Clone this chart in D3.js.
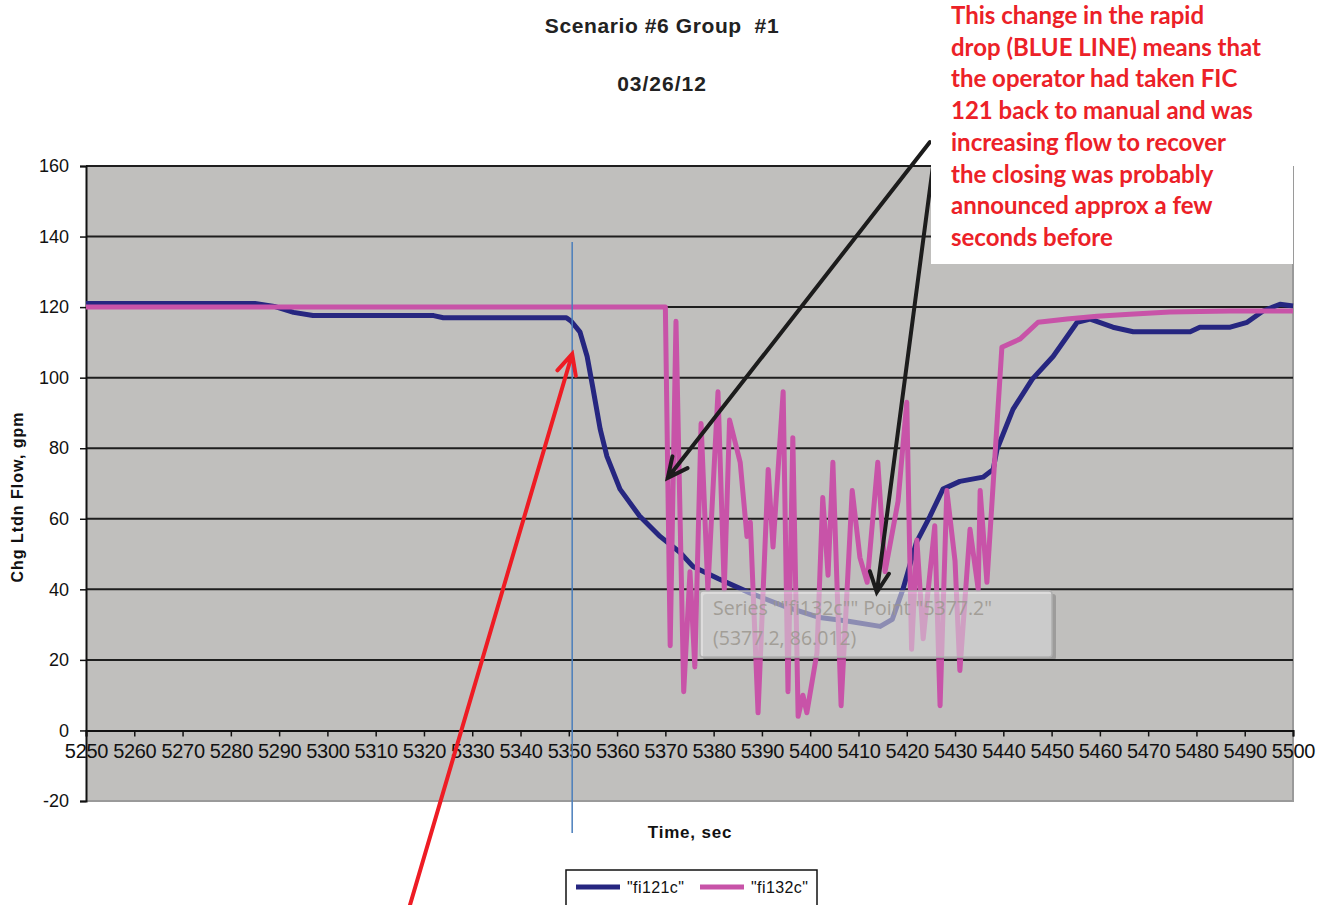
<!DOCTYPE html>
<html>
<head>
<meta charset="utf-8">
<title>Scenario #6 Group #1</title>
<script src="https://d3js.org/d3.v7.min.js"></script>
<style>
	body { margin: 0; background: #fff; }
	svg text { font-family: "Liberation Sans", Arial, sans-serif; }
</style>
</head>
<body>
<div id="chart"></div>
<script>
// --- data: [time sec, flow gpm] ---
var fi121c = [[5250,121],[5285,121],[5289,120.2],[5293,118.5],[5297,117.6],[5322,117.6],[5324,117],
	[5349.5,117],[5350.5,116],[5352.3,113],[5353.8,106],[5355,97],[5356.5,85.4],[5357.9,77.7],
	[5360.6,68.4],[5364.7,60.7],[5368.9,55],[5373,50.5],[5375.7,46.5],[5381,43],[5387.5,39],
	[5395,35],[5402,32],[5407.6,31],[5414.5,29.5],[5417,31.5],[5419.2,40],[5422,53.3],[5424.8,60.7],
	[5427.5,68.4],[5431,70.6],[5435.8,71.8],[5437.9,74],[5438.7,79.7],[5442,91],[5446,99.6],
	[5450.3,106],[5455.3,115.7],[5458,116.6],[5462.7,114.3],[5466.9,113],[5478.7,113],[5480.7,114.3],
	[5487,114.3],[5490.5,115.7],[5493.8,118.9],[5497.3,120.8],[5500,120.3]];

var fi132c = [[5250,120],[5370,120],[5371,24],[5372.2,116],[5373.8,11],[5375.1,45],[5376.1,18],
	[5377.4,87],[5378.8,40],[5380.9,96],[5382.2,40],[5383.3,88],[5385.5,76],[5386.9,55],[5387.6,59],
	[5389.2,5],[5391.3,74],[5392.3,52],[5394.4,96],[5395.4,11],[5396.4,83],[5397.5,4],[5398.5,10],
	[5399.3,5],[5401.4,22],[5402.6,66],[5403.7,44],[5404.7,76],[5406.4,7],[5408.7,68],[5410.3,49],
	[5411.8,42],[5414,76],[5415.5,45],[5418.2,65],[5420,93],[5421,23],[5422.1,54],[5423.4,26],
	[5425.8,58],[5426.9,7],[5428.3,68],[5430,48],[5431,17],[5433.1,57],[5434.8,40],[5435.2,68],
	[5436.6,42],[5439.7,108.6],[5443.5,111],[5447.2,115.7],[5453.2,116.6],[5459.4,117.4],
	[5466.2,118],[5474.5,118.6],[5487,118.9],[5500,118.9]];

var seriesNames = ['"fi121c"', '"fi132c"'];
var seriesColors = ["#262680", "#c853a8"];
var xTicks = d3.range(5250, 5501, 10);
var yTicks = d3.range(-20, 161, 20);

// annotation arrows, [from, tip] in data units
var redArrow = [[5317.1,-49.5],[5350.7,106.7]];
var blackArrows = [[[5424.8,166.8],[5370.5,71.6]], [[5425.4,159.7],[5413.8,39.2]]];
var markerTime = 5350.7;
var noteLines = ["This change in the rapid", "drop (BLUE LINE) means that", "the operator had taken FIC",
	"121 back to manual and was", "increasing flow to recover", "the closing was probably",
	"announced approx a few", "seconds before"];
var tipLines = ['Series ""fi132c"" Point "5377.2"', "(5377.2, 86.012)"];

// --- layout ---
var W = 1330, H = 905;
var plot = {left: 86, right: 1293, top: 166, bottom: 801};

var svg = d3.select("#chart").append("svg")
	.attr("width", W).attr("height", H);

var x = d3.scaleLinear().domain([5250, 5500]).range([plot.left, plot.right]);
var y = d3.scaleLinear().domain([-20, 160]).range([plot.bottom, plot.top]);

// plot background
svg.append("rect")
	.attr("x", plot.left).attr("y", plot.top)
	.attr("width", plot.right - plot.left).attr("height", plot.bottom - plot.top)
	.style("fill", "#c0bfbd");

// right + bottom border
svg.append("path")
	.attr("d", "M" + plot.right + "," + plot.top + "V" + plot.bottom + "H" + plot.left)
	.style("fill", "none").style("stroke", "#9a9a9a").style("stroke-width", 2);

// gridlines
svg.selectAll(".grid").data(yTicks.filter(function(d){ return d > 0; }))
	.enter().append("line")
	.attr("x1", plot.left).attr("x2", plot.right)
	.attr("y1", function(d){ return y(d); }).attr("y2", function(d){ return y(d); })
	.style("stroke", "#1e1e1e").style("stroke-width", 2);

// y axis
var yAxis = svg.append("g")
	.attr("transform", "translate(" + plot.left + ",0)")
	.call(d3.axisLeft(y).tickValues(yTicks).tickFormat(function(d){ return String(d); })
		.tickSize(6).tickPadding(11));
yAxis.select(".domain").style("stroke", "#111").style("stroke-width", 2);
yAxis.selectAll(".tick line").style("stroke", "#111").style("stroke-width", 1.5);
yAxis.selectAll("text").style("font-size", "18px").style("fill", "#111")
	.style("font-family", "'Liberation Sans', Arial, sans-serif");

// x axis at zero
var xAxis = svg.append("g")
	.attr("transform", "translate(0," + y(0) + ")")
	.call(d3.axisBottom(x).tickValues(xTicks).tickFormat(function(d){ return String(d); })
		.tickSize(6).tickPadding(7));
xAxis.select(".domain").style("stroke", "#111").style("stroke-width", 2);
xAxis.selectAll(".tick line").style("stroke", "#111").style("stroke-width", 1.5);
xAxis.selectAll("text").style("font-size", "20px").style("fill", "#111")
	.style("letter-spacing", "-0.3px")
	.style("font-family", "'Liberation Sans', Arial, sans-serif");

// series
var line = d3.line().x(function(d){ return x(d[0]); }).y(function(d){ return y(d[1]); });
[fi121c, fi132c].forEach(function(s, i){
	svg.append("path").datum(s)
		.attr("d", line)
		.style("fill", "none")
		.style("stroke", seriesColors[i])
		.style("stroke-width", 5)
		.style("stroke-linejoin", "round");
});

// excel tooltip left in the screenshot
var tip = svg.append("g").attr("transform", "translate(700,591)");
tip.append("rect").attr("x", 3).attr("y", 3).attr("width", 353).attr("height", 66).attr("rx", 3)
	.style("fill", "#000").style("opacity", 0.18);
tip.append("rect").attr("width", 352).attr("height", 66).attr("rx", 3)
	.style("fill", "#fafafc").style("fill-opacity", 0.5)
	.style("stroke", "#b0b0b0").style("stroke-width", 1.5);
tip.selectAll("text").data(tipLines).enter().append("text")
	.attr("x", 13).attr("y", function(d, i){ return 24 + i * 30; })
	.text(function(d){ return d; })
	.style("font-family", "'Open Sans', sans-serif").style("font-size", "19.5px")
	.style("fill", "#9c978f").style("opacity", 0.85);

// thin marker line at the start of the drop
svg.append("line")
	.attr("x1", x(markerTime)).attr("x2", x(markerTime))
	.attr("y1", 242).attr("y2", 833)
	.style("stroke", "#4a7ebb").style("stroke-width", 1.5);

// axis titles
svg.append("text").text("Time, sec")
	.attr("x", 690).attr("y", 838).attr("text-anchor", "middle")
	.style("font-size", "17px").style("font-weight", "bold").style("letter-spacing", "0.8px")
	.style("fill", "#111");
svg.append("text").text("Chg Ltdn Flow, gpm")
	.attr("transform", "translate(23,497) rotate(-90)").attr("text-anchor", "middle")
	.style("font-size", "16px").style("font-weight", "bold").style("letter-spacing", "1px")
	.style("fill", "#111");

// title
svg.append("text").text("Scenario #6 Group  #1")
	.attr("x", 662).attr("y", 33).attr("text-anchor", "middle")
	.attr("xml:space", "preserve")
	.style("font-size", "21px").style("font-weight", "bold").style("letter-spacing", "0.6px")
	.style("fill", "#222");
svg.append("text").text("03/26/12")
	.attr("x", 662).attr("y", 91).attr("text-anchor", "middle")
	.style("font-size", "21px").style("font-weight", "bold").style("letter-spacing", "1px")
	.style("fill", "#222");

// arrows
function arrow(g, a, color, width){
	var x0 = x(a[0][0]), y0 = y(a[0][1]), x1 = x(a[1][0]), y1 = y(a[1][1]);
	var ang = Math.atan2(y0 - y1, x0 - x1), len = 22, spread = 0.45;
	g.append("path")
		.attr("d", "M" + x0 + "," + y0 + "L" + x1 + "," + y1 +
			"M" + (x1 + len * Math.cos(ang - spread)) + "," + (y1 + len * Math.sin(ang - spread)) +
			"L" + x1 + "," + y1 +
			"L" + (x1 + len * Math.cos(ang + spread)) + "," + (y1 + len * Math.sin(ang + spread)))
		.style("fill", "none").style("stroke", color).style("stroke-width", width)
		.style("stroke-linecap", "round").style("stroke-linejoin", "miter");
}
blackArrows.forEach(function(a){ arrow(svg, a, "#1c1c1c", 4); });

// red note box
svg.append("rect").attr("x", 931).attr("y", 0).attr("width", 362).attr("height", 264)
	.style("fill", "#fff");
svg.selectAll(".note").data(noteLines).enter().append("text")
	.attr("x", 951).attr("y", function(d, i){ return 24 + i * 31.7; })
	.text(function(d){ return d; })
	.style("font-family", "Lato, 'Open Sans', sans-serif").style("font-weight", "bold")
	.style("font-size", "24px").style("fill", "#ec2127");

arrow(svg, redArrow, "#ee1c24", 4);

// legend
var leg = svg.append("g").attr("transform", "translate(566,870)");
leg.append("rect").attr("width", 251).attr("height", 40)
	.style("fill", "#fff").style("stroke", "#111").style("stroke-width", 1.5);
seriesNames.forEach(function(n, i){
	leg.append("line").attr("x1", 10 + i * 124).attr("x2", 54 + i * 124)
		.attr("y1", 17).attr("y2", 17)
		.style("stroke", seriesColors[i]).style("stroke-width", 5);
	leg.append("text").attr("x", 61 + i * 124).attr("y", 23).text(n)
		.style("font-size", "16px").style("letter-spacing", "0.4px").style("fill", "#111");
});
</script>
</body>
</html>
